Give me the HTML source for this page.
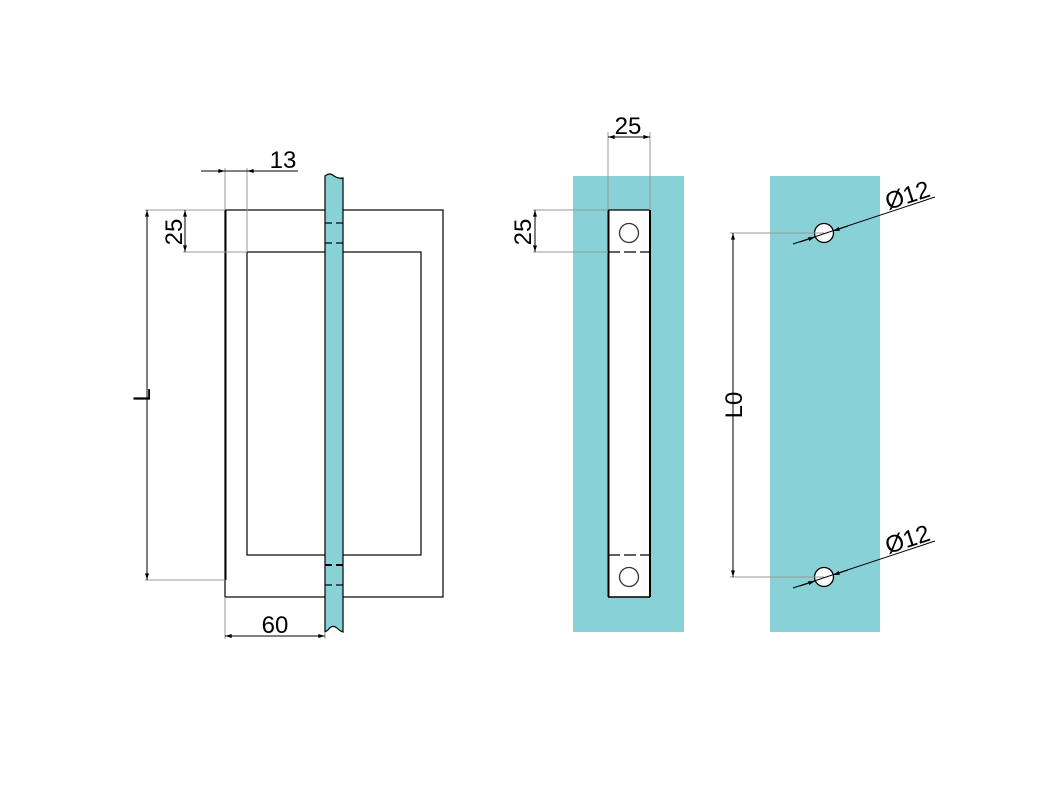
<!DOCTYPE html>
<html><head><meta charset="utf-8"><style>
html,body{margin:0;padding:0;background:#fff;}
svg{display:block;}
text{font-family:"Liberation Sans",Arial,sans-serif;fill:#000;}
</style></head><body>
<svg width="1063" height="800" viewBox="0 0 1063 800" xmlns="http://www.w3.org/2000/svg">
<defs>
<marker id="a" viewBox="0 0 10 6" refX="10" refY="3" markerWidth="8" markerHeight="4" orient="auto-start-reverse" markerUnits="userSpaceOnUse"><path d="M0,0 L10,3 L0,6z" fill="#000"/></marker>
</defs>
<rect width="1063" height="800" fill="#fff"/>

<!-- LEFT VIEW -->
<rect x="225" y="210" width="218" height="387" fill="none" stroke="#000" stroke-width="1.2"/>
<line x1="225.5" y1="210" x2="225.5" y2="580" stroke="#000" stroke-width="2"/>
<rect x="247" y="252" width="174" height="303" fill="none" stroke="#000" stroke-width="1.2"/>
<path d="M325,632 L325,176 Q330,172 334,176 Q339,179 343,178 L343,632 Q340,631 337,628 Q332,624 328,630 Z" fill="#87d1d7" stroke="#000" stroke-width="1.2"/>
<g stroke="#000" stroke-width="1.2">
<line x1="325" y1="223" x2="332" y2="223"/><line x1="336" y1="223" x2="343" y2="223"/>
<line x1="325" y1="243" x2="332" y2="243"/><line x1="336" y1="243" x2="343" y2="243"/>
<line x1="325" y1="565" x2="332" y2="565" stroke-width="2"/><line x1="336" y1="565" x2="343" y2="565" stroke-width="2"/>
<line x1="325" y1="585" x2="332" y2="585"/><line x1="336" y1="585" x2="343" y2="585"/>
</g>
<g stroke="#999" stroke-width="1">
<line x1="225" y1="168" x2="225" y2="210"/>
<line x1="247" y1="168" x2="247" y2="252"/>
<line x1="145" y1="210" x2="225" y2="210"/>
<line x1="145" y1="580" x2="225" y2="580"/>
<line x1="183" y1="252" x2="247" y2="252"/>
<line x1="225" y1="597" x2="225" y2="639"/>
<line x1="325" y1="632" x2="325" y2="639"/>
</g>
<g stroke="#000" stroke-width="1">
<line x1="201" y1="171" x2="298" y2="171"/>
<line x1="215" y1="171" x2="225" y2="171" marker-end="url(#a)"/>
<line x1="257" y1="171" x2="247" y2="171" marker-end="url(#a)"/>
<line x1="147" y1="210" x2="147" y2="580" marker-start="url(#a)" marker-end="url(#a)"/>
<line x1="185" y1="210" x2="185" y2="252" marker-start="url(#a)" marker-end="url(#a)"/>
<line x1="225" y1="636" x2="325" y2="636" marker-start="url(#a)" marker-end="url(#a)"/>
</g>
<text x="283" y="168" font-size="24" text-anchor="middle">13</text>
<text x="275" y="633" font-size="24" text-anchor="middle">60</text>
<text transform="translate(182,232) rotate(-90)" font-size="24" text-anchor="middle">25</text>
<text transform="translate(150,395) rotate(-90)" font-size="24" text-anchor="middle">L</text>

<!-- MIDDLE VIEW -->
<rect x="573" y="176" width="111" height="456" fill="#87d1d7"/>
<rect x="608" y="210" width="42" height="387" fill="#fff"/>
<line x1="608.5" y1="210" x2="608.5" y2="597" stroke="#000" stroke-width="2"/>
<line x1="650" y1="210" x2="650" y2="597" stroke="#000" stroke-width="2"/>
<line x1="608" y1="210" x2="650" y2="210" stroke="#000" stroke-width="1.2"/>
<line x1="608" y1="597" x2="650" y2="597" stroke="#000" stroke-width="1.5"/>
<line x1="608" y1="252" x2="650" y2="252" stroke="#000" stroke-width="1.2" stroke-dasharray="12,4"/>
<line x1="608" y1="555" x2="650" y2="555" stroke="#000" stroke-width="1.2" stroke-dasharray="12,4"/>
<circle cx="629" cy="233" r="9.5" fill="none" stroke="#333" stroke-width="1.3"/>
<circle cx="629" cy="577" r="9.5" fill="none" stroke="#333" stroke-width="1.3"/>
<g stroke="#999" stroke-width="1">
<line x1="608" y1="132" x2="608" y2="210"/>
<line x1="650" y1="132" x2="650" y2="210"/>
<line x1="533" y1="210" x2="608" y2="210"/>
<line x1="533" y1="252" x2="608" y2="252"/>
</g>
<g stroke="#000" stroke-width="1">
<line x1="608" y1="137" x2="650" y2="137" marker-start="url(#a)" marker-end="url(#a)"/>
<line x1="535" y1="210" x2="535" y2="252" marker-start="url(#a)" marker-end="url(#a)"/>
</g>
<text x="628" y="134" font-size="24" text-anchor="middle">25</text>
<text transform="translate(531,232) rotate(-90)" font-size="24" text-anchor="middle">25</text>

<!-- RIGHT VIEW -->
<rect x="770" y="176" width="110" height="456" fill="#87d1d7"/>
<circle cx="824" cy="233" r="9.5" fill="#fff" stroke="#000" stroke-width="1.3"/>
<circle cx="824" cy="577" r="9.5" fill="#fff" stroke="#000" stroke-width="1.3"/>
<g stroke="#999" stroke-width="1">
<line x1="730" y1="233" x2="824" y2="233"/>
<line x1="730" y1="577" x2="824" y2="577"/>
</g>
<g stroke="#000" stroke-width="1">
<line x1="733" y1="233" x2="733" y2="577" marker-start="url(#a)" marker-end="url(#a)"/>
<line x1="793" y1="244" x2="935" y2="197"/>
<line x1="800" y1="242" x2="815" y2="237" marker-end="url(#a)"/>
<line x1="848" y1="226" x2="833" y2="231" marker-end="url(#a)"/>
<line x1="793" y1="588" x2="935" y2="541"/>
<line x1="800" y1="586" x2="815" y2="581" marker-end="url(#a)"/>
<line x1="848" y1="570" x2="833" y2="575" marker-end="url(#a)"/>
</g>
<text transform="translate(742,405) rotate(-90)" font-size="24" text-anchor="middle">L0</text>
<text transform="translate(910,203) rotate(-18)" font-size="24" text-anchor="middle">Ø12</text>
<text transform="translate(910,547) rotate(-18)" font-size="24" text-anchor="middle">Ø12</text>
</svg>
</body></html>
